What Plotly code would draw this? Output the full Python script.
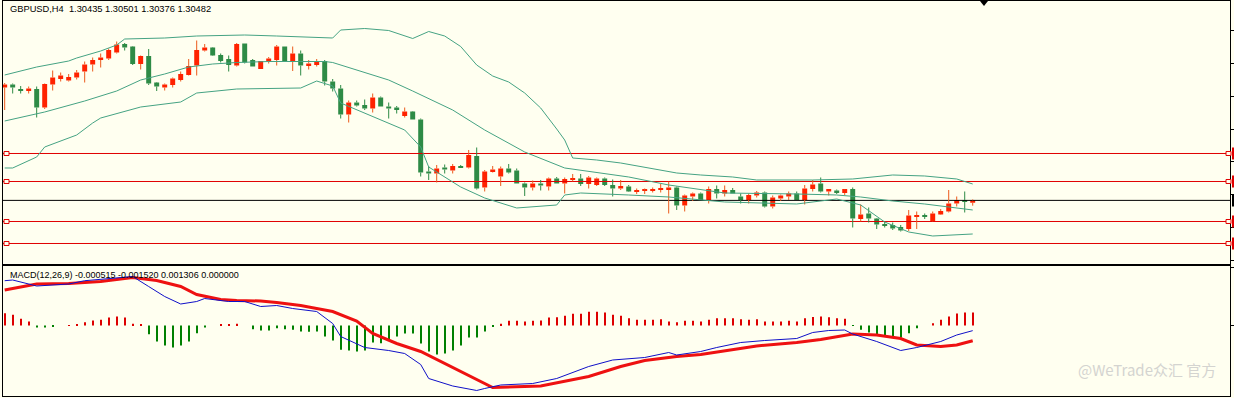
import plotly.graph_objects as go

# ---------------- DATA ----------------
opens = [1.3274,1.3280,1.3270,1.3267,1.3271,1.3234,1.3280,1.3291,1.3288,1.3294,
         1.3306,1.3320,1.3329,1.3332,1.3344,1.3361,1.3356,1.3321,1.3337,1.3284,
         1.3274,1.3279,1.3289,1.3299,1.3318,1.3348,1.3354,1.3339,1.3331,1.3318,
         1.3362,1.3329,1.3311,1.3326,1.3329,1.3356,1.3327,1.3342,1.3317,1.3319,
         1.3327,1.3286,1.3272,1.3220,1.3244,1.3239,1.3232,1.3254,1.3236,1.3234,
         1.3217,1.3226,1.3210,1.3106,1.3102,1.3114,1.3108,1.3117,1.3114,1.3137,
         1.3074,1.3105,1.3096,1.3112,1.3108,1.3082,1.3074,1.3082,1.3076,1.3092,
         1.3082,1.3090,1.3092,1.3081,1.3079,1.3092,1.3079,1.3072,1.3076,1.3066,
         1.3067,1.3067,1.3069,1.3069,1.3074,1.3038,1.3056,1.3062,1.3049,1.3071,
         1.3062,1.3069,1.3056,1.3049,1.3058,1.3064,1.3036,1.3052,1.3056,1.3062,
         1.3049,1.3071,1.3082,1.3066,1.3068,1.3063,1.3071,1.3011,1.3022,1.3012,
         1.3000,1.2999,1.2995,1.2991,1.3016,1.3018,1.3007,1.3020,1.3026,1.3042,
         1.3049,1.30435]
highs = [1.3283,1.3282,1.3277,1.3276,1.3276,1.3282,1.3308,1.3304,1.3301,1.3309,
         1.3326,1.3334,1.3342,1.3352,1.3366,1.3363,1.3357,1.3338,1.3351,1.3285,
         1.3282,1.3294,1.3306,1.3331,1.3368,1.3361,1.3355,1.3342,1.3338,1.3363,
         1.3362,1.3331,1.3327,1.3335,1.3359,1.3356,1.3356,1.3348,1.3329,1.3331,
         1.3329,1.3291,1.3279,1.3248,1.3248,1.3250,1.3262,1.3256,1.3244,1.3237,
         1.3234,1.3227,1.3212,1.3117,1.3119,1.3120,1.3121,1.3119,1.3149,1.3154,
         1.3109,1.3117,1.3116,1.3121,1.3112,1.3084,1.3088,1.3089,1.3094,1.3095,
         1.3094,1.3101,1.3101,1.3097,1.3094,1.3094,1.3090,1.3089,1.3079,1.3072,
         1.3072,1.3074,1.3081,1.3086,1.3076,1.3060,1.3064,1.3064,1.3076,1.3078,
         1.3078,1.3073,1.3062,1.3062,1.3067,1.3066,1.3058,1.3060,1.3066,1.3066,
         1.3079,1.3089,1.3094,1.3071,1.3070,1.3070,1.3074,1.3040,1.3034,1.3013,
         1.3006,1.3004,1.2999,1.3029,1.3026,1.3022,1.3026,1.3031,1.3069,1.3056,
         1.3066,1.30501]
lows = [1.3229,1.3262,1.3262,1.3262,1.3214,1.3231,1.3268,1.3286,1.3286,1.3290,
        1.3284,1.3306,1.3314,1.3329,1.3342,1.3348,1.3319,1.3310,1.3279,1.3267,
        1.3268,1.3274,1.3286,1.3298,1.3298,1.3346,1.3337,1.3324,1.3306,1.3316,
        1.3322,1.3316,1.3311,1.3322,1.3318,1.3327,1.3307,1.3298,1.3310,1.3316,
        1.3278,1.3266,1.3212,1.3204,1.3236,1.3229,1.3224,1.3236,1.3212,1.3222,
        1.3214,1.3210,1.3096,1.3089,1.3084,1.3102,1.3102,1.3113,1.3112,1.3070,
        1.3066,1.3104,1.3077,1.3102,1.3082,1.3057,1.3068,1.3068,1.3068,1.3082,
        1.3062,1.3086,1.3077,1.3072,1.3077,1.3077,1.3056,1.3069,1.3065,1.3061,
        1.3061,1.3064,1.3064,1.3022,1.3029,1.3026,1.3047,1.3049,1.3042,1.3052,
        1.3056,1.3062,1.3042,1.3042,1.3054,1.3034,1.3032,1.3047,1.3049,1.3049,
        1.3040,1.3066,1.3064,1.3058,1.3061,1.3059,1.2994,1.3006,1.3004,1.2991,
        1.2994,1.2989,1.2986,1.2987,1.2991,1.3011,1.3006,1.3019,1.3024,1.3036,
        1.3024,1.30376]
closes = [1.3280,1.3274,1.3267,1.3272,1.3234,1.3281,1.3294,1.3298,1.3295,1.3304,
          1.3320,1.3329,1.3334,1.3349,1.3360,1.3354,1.3321,1.3337,1.3282,1.3276,
          1.3280,1.3292,1.3301,1.3317,1.3349,1.3354,1.3338,1.3327,1.3319,1.3361,
          1.3324,1.3316,1.3327,1.3332,1.3356,1.3327,1.3342,1.3318,1.3322,1.3326,
          1.3286,1.3272,1.3220,1.3244,1.3238,1.3232,1.3254,1.3236,1.3232,1.3229,
          1.3226,1.3210,1.3104,1.3102,1.3112,1.3110,1.3117,1.3114,1.3139,1.3072,
          1.3106,1.3110,1.3112,1.3104,1.3082,1.3074,1.3082,1.3078,1.3092,1.3082,
          1.3091,1.3092,1.3081,1.3094,1.3092,1.3079,1.3072,1.3077,1.3066,1.3068,
          1.3068,1.3071,1.3072,1.3074,1.3038,1.3058,1.3062,1.3049,1.3071,1.3062,
          1.3069,1.3062,1.3049,1.3059,1.3064,1.3036,1.3054,1.3058,1.3062,1.3049,
          1.3072,1.3080,1.3066,1.3071,1.3063,1.3071,1.3012,1.3020,1.3012,1.3000,
          1.2998,1.2992,1.2988,1.3018,1.3018,1.3016,1.3022,1.3027,1.3042,1.3049,
          1.3046,1.30482]

# Bollinger bands (sampled at candle indices)
bb_up_idx = [0,4,8,9,12,14,15,20,24,30,34,41,42,45,48,51,53,55,57,59,61,63,65,67,69,70,71,74,77,81,84,87,91,94,101,106,109,111,115,119,121]
bb_up = [1.3299,1.3315,1.3327,1.3333,1.3347,1.3359,1.3371,1.3373,1.3377,1.3379,1.3377,1.3373,1.3389,1.3392,1.3388,1.3372,1.3386,1.3377,1.3356,1.3319,1.3297,1.3285,1.3263,1.3233,1.3191,1.3169,1.3133,1.3129,1.3123,1.3111,1.3103,1.3099,1.3095,1.3089,1.3089,1.3091,1.3095,1.3099,1.3097,1.3091,1.3081]
bb_mid_idx = [0,5,10,14,17,20,23,26,29,33,37,40,41,48,51,56,60,65,70,78,83,90,99,104,107,111,115,118,121]
bb_mid = [1.3207,1.3225,1.3247,1.3267,1.3289,1.3301,1.3315,1.3321,1.3324,1.3326,1.3326,1.3326,1.3324,1.3289,1.3267,1.3229,1.3189,1.3145,1.3113,1.3095,1.3079,1.3063,1.3061,1.3059,1.3055,1.3047,1.3041,1.3035,1.3029]
bb_lo_idx = [0,1,4,5,9,11,12,17,22,24,29,37,39,41,42,45,50,52,53,57,60,64,69,70,72,78,83,90,99,104,107,110,113,116,121]
bb_lo = [1.3113,1.3113,1.3135,1.3155,1.3179,1.3203,1.3213,1.3235,1.3245,1.3263,1.3271,1.3273,1.3287,1.3277,1.3243,1.3223,1.3189,1.3155,1.3115,1.3075,1.3053,1.3033,1.3039,1.3059,1.3063,1.3059,1.3055,1.3045,1.3041,1.3051,1.3039,1.3005,1.2985,1.2977,1.2981]

# horizontal levels
red_levels = [1.3142, 1.3086, 1.3006, 1.2962]
bid_level = 1.30482

# MACD
macd_hist = [0.00123,0.00107,0.00067,0.0004,-0.0002,-0.0002,-0.0001,0.0,0.00005,0.0001,
             0.00033,0.0005,0.00057,0.0008,0.0009,0.0008,0.00017,0.0001,-0.00087,-0.0016,
             -0.002,-0.0022,-0.002,-0.0016,-0.00077,-0.0002,0.0,0.0001,0.0001,0.00017,
             0.0,-0.00037,-0.0005,-0.0005,-0.00027,-0.00037,-0.00043,-0.0006,-0.00063,-0.0006,
             -0.0011,-0.0015,-0.00243,-0.0025,-0.0026,-0.0025,-0.0017,-0.00177,-0.00143,-0.0011,
             -0.0008,-0.0008,-0.0018,-0.0026,-0.0029,-0.0028,-0.0025,-0.002,-0.0012,-0.0012,
             -0.0006,-0.0001,0.00017,0.00047,0.00047,0.0004,0.00047,0.0005,0.0008,0.00083,
             0.00097,0.00117,0.00117,0.00137,0.00137,0.0013,0.00107,0.00097,0.00073,0.00057,
             0.00057,0.00057,0.00063,0.0004,0.00033,0.00047,0.00047,0.0004,0.00057,0.00073,
             0.00073,0.00073,0.00063,0.00057,0.00063,0.0004,0.0004,0.0004,0.00047,0.0004,
             0.00073,0.00085,0.0009,0.00083,0.00073,0.00067,-0.00003,-0.00043,-0.0007,-0.00093,
             -0.001,-0.0012,-0.0012,-0.00077,-0.00027,0.0,0.00023,0.00057,0.0009,0.0012,
             0.0013,0.001306]
macd_main_idx = [0,1,4,8,10,13,16,18,20,22,24,25,28,30,32,34,36,39,41,42,45,48,50,52,53,56,58,59,60,62,66,69,73,76,80,83,84,87,89,92,95,99,101,103,105,106,109,112,114,117,119,121]
macd_main = [0.00448,0.00455,0.00395,0.00415,0.00448,0.0047,0.0049,0.0039,0.0029,0.00215,0.0024,0.0027,0.0024,0.0024,0.0019,0.002,0.0017,0.0014,0.0002,-0.0011,-0.0022,-0.0025,-0.0028,-0.0039,-0.0053,-0.00605,-0.0063,-0.0065,-0.0063,-0.00595,-0.0058,-0.0053,-0.0041,-0.00345,-0.0032,-0.0027,-0.00295,-0.0026,-0.0022,-0.0017,-0.0015,-0.0013,-0.0007,-0.0005,-0.00045,-0.00085,-0.0016,-0.0025,-0.0022,-0.0016,-0.00095,-0.000515]
macd_sig_idx = [0,4,8,12,14,16,19,22,24,27,29,32,34,37,39,41,44,46,49,52,61,67,73,77,80,84,87,91,94,99,102,106,109,112,114,117,119,121]
macd_sig = [0.00355,0.00415,0.0042,0.0044,0.0046,0.0048,0.0045,0.0039,0.0031,0.0026,0.0025,0.00245,0.0023,0.0020,0.0017,0.0014,0.00045,-0.0008,-0.0018,-0.0026,-0.0062,-0.00605,-0.0051,-0.0041,-0.0035,-0.0031,-0.0029,-0.0024,-0.00205,-0.0017,-0.0014,-0.00085,-0.00095,-0.0013,-0.00195,-0.0021,-0.00195,-0.00152]

title_text = "GBPUSD,H4  1.30435 1.30501 1.30376 1.30482"
macd_text = "MACD(12,26,9) -0.000515 -0.001520 0.001306 0.000000"
watermark = "@WeTrade众汇 官方"

# ---------------- STYLE ----------------
BG = "#FFFFF0"
UP_BODY = "#FF2200"
UP_WICK = "#EC5A1C"
DN = "#2E8B46"
BAND = "#45A383"
LEVEL = "#E00000"
FONT = "Liberation Sans"
X_RANGE = [-0.21, 153.16]

n = len(opens)
idx = list(range(n))
is_up = [c >= o for o, c in zip(opens, closes)]
MIN_BODY = 0.00022

fig = go.Figure()

# horizontal level lines (drawn first, under candles)
for lv in red_levels:
    fig.add_trace(go.Scatter(x=X_RANGE, y=[lv, lv], mode="lines", line=dict(color=LEVEL, width=1),
                             hoverinfo="skip", showlegend=False, xaxis="x", yaxis="y"))
fig.add_trace(go.Scatter(x=X_RANGE, y=[bid_level, bid_level], mode="lines",
                         line=dict(color="black", width=1),
                         hoverinfo="skip", showlegend=False, xaxis="x", yaxis="y"))

# wicks (split above / below the body)
for flag, col in ((True, UP_WICK), (False, DN)):
    xs, ys = [], []
    for i in range(n):
        if is_up[i] != flag:
            continue
        top = max(opens[i], closes[i])
        bot = min(opens[i], closes[i])
        xs += [i, i, None, i, i, None]
        ys += [highs[i], top, None, bot, lows[i], None]
    fig.add_trace(go.Scatter(x=xs, y=ys, mode="lines", line=dict(color=col, width=1),
                             hoverinfo="skip", showlegend=False, xaxis="x", yaxis="y"))

# bodies
for flag, col in ((True, UP_BODY), (False, DN)):
    sel = [i for i in range(n) if is_up[i] == flag]
    bases = [min(opens[i], closes[i]) for i in sel]
    hts = [max(abs(closes[i] - opens[i]), MIN_BODY) for i in sel]
    fig.add_trace(go.Bar(x=sel, y=hts, base=bases, width=0.62,
                         marker=dict(color=col, line=dict(width=0)),
                         showlegend=False, xaxis="x", yaxis="y"))

# Bollinger bands
for bx, by in ((bb_up_idx, bb_up), (bb_mid_idx, bb_mid), (bb_lo_idx, bb_lo)):
    fig.add_trace(go.Scatter(x=bx, y=by, mode="lines", line=dict(color=BAND, width=1),
                             hoverinfo="skip", showlegend=False, xaxis="x", yaxis="y"))

# MACD histogram
fig.add_trace(go.Bar(x=idx, y=macd_hist, width=0.16,
                     marker=dict(color=["#DD0000" if v >= 0 else "#008000" for v in macd_hist],
                                 line=dict(width=0)),
                     showlegend=False, xaxis="x2", yaxis="y2"))
fig.add_trace(go.Scatter(x=macd_sig_idx, y=macd_sig, mode="lines",
                         line=dict(color="#EE1111", width=3),
                         showlegend=False, xaxis="x2", yaxis="y2"))
fig.add_trace(go.Scatter(x=macd_main_idx, y=macd_main, mode="lines",
                         line=dict(color="#1010C8", width=1),
                         showlegend=False, xaxis="x2", yaxis="y2"))

shapes = []
for lv in red_levels:
    for anchor, a, b in ((0, 1, 6), (1, -4, 1)):
        shapes.append(dict(type="rect", xref="paper", yref="y", xsizemode="pixel", ysizemode="pixel",
                           xanchor=anchor, yanchor=lv, x0=a, x1=b, y0=-2, y1=2,
                           fillcolor=BG, line=dict(color=LEVEL, width=1)))
    shapes.append(dict(type="rect", xref="paper", yref="y", xsizemode="pixel", ysizemode="pixel",
                       xanchor=1, yanchor=lv, x0=2, x1=6, y0=-6, y1=6,
                       fillcolor=LEVEL, line=dict(width=0)))
shapes.append(dict(type="rect", xref="paper", yref="y", xsizemode="pixel", ysizemode="pixel",
                   xanchor=1, yanchor=bid_level, x0=2, x1=6, y0=-6, y1=6,
                   fillcolor="black", line=dict(width=0)))
# chart-shift marker
shapes.append(dict(type="path", xref="paper", yref="paper", xsizemode="pixel", ysizemode="pixel",
                   xanchor=0.7995, yanchor=1, path="M-4,0 L4,0 L0,-5 Z",
                   fillcolor="black", line=dict(width=0)))

annotations = [
    dict(text=title_text, xref="paper", yref="paper", x=0.004, y=0.9797, xanchor="left",
         yanchor="middle", showarrow=False, font=dict(family=FONT, size=9.3, color="black")),
    dict(text=macd_text, xref="paper", yref="paper", x=0.004, y=0.3063, xanchor="left",
         yanchor="middle", showarrow=False, font=dict(family=FONT, size=9.0, color="black")),
    dict(text=watermark, xref="paper", yref="paper", x=0.990, y=0.068, xanchor="right",
         yanchor="middle", showarrow=False, font=dict(family="Noto Sans CJK SC", size=15, color="#D4D4D0")),
]

axis_common = dict(showline=True, mirror=True, linecolor="black", linewidth=1,
                   showgrid=False, zeroline=False)

fig.update_layout(
    width=1234, height=398,
    margin=dict(l=3, r=4, t=1, b=2),
    paper_bgcolor=BG, plot_bgcolor=BG,
    barmode="overlay", showlegend=False,
    xaxis=dict(domain=[0, 1], anchor="y", range=X_RANGE, showticklabels=False,
               ticks="", **axis_common),
    yaxis=dict(domain=[0.3342, 1], anchor="x", range=[1.2921, 1.3447], side="right",
               ticks="outside", ticklen=4, tickcolor="black", tick0=1.3389, dtick=0.0066,
               showticklabels=False, **axis_common),
    xaxis2=dict(domain=[0, 1], anchor="y2", matches="x", range=X_RANGE,
                showticklabels=False, ticks="", **axis_common),
    yaxis2=dict(domain=[0, 0.3291], anchor="x2", range=[-0.00705, 0.00595], side="right",
                ticks="outside", ticklen=4, tickcolor="black", tickvals=[0.0058, 0],
                showticklabels=False, **axis_common),
    shapes=shapes, annotations=annotations,
)

fig.write_html("out.html",
               config={"displayModeBar": False},
               post_script="document.body.style.margin='0';document.body.style.background='#FFFFF0';")
